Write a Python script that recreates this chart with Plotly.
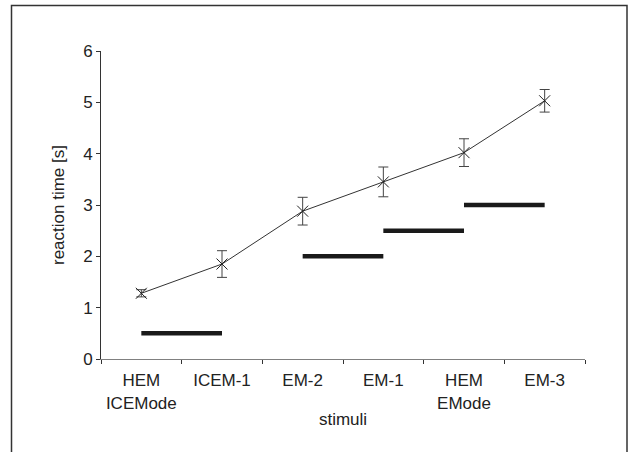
import plotly.graph_objects as go

categories = ["HEM<br>ICEMode", "ICEM-1", "EM-2", "EM-1", "HEM<br>EMode", "EM-3"]
reaction_time = [1.28, 1.85, 2.88, 3.45, 4.02, 5.03]
error = [0.07, 0.26, 0.27, 0.29, 0.27, 0.22]

# horizontal reference segments: (start category, end category, level)
seg_start = ["HEM<br>ICEMode", "EM-2", "EM-1", "HEM<br>EMode"]
seg_end = ["ICEM-1", "EM-1", "HEM<br>EMode", "EM-3"]
seg_level = [0.5, 2.0, 2.5, 3.0]

y_ticks = [0, 1, 2, 3, 4, 5, 6]

fig = go.Figure()

for s, e, v in zip(seg_start, seg_end, seg_level):
    fig.add_trace(go.Scatter(
        x=[s, e], y=[v, v], mode="lines",
        line=dict(color="#1a1a1a", width=4.5),
        showlegend=False, hoverinfo="skip", cliponaxis=False,
    ))

fig.add_trace(go.Scatter(
    x=categories, y=reaction_time, mode="lines+markers",
    line=dict(color="#333333", width=1),
    marker=dict(symbol="x-thin", size=11, line=dict(color="#222222", width=1)),
    error_y=dict(type="data", array=error, visible=True, color="#444444",
                 thickness=1, width=5),
    showlegend=False, cliponaxis=False,
))

L, R, T, B = 101, 48, 51, 93
W, H = 633, 452
pw, ph = W - L - R, H - T - B

fig.update_layout(
    width=W, height=H,
    margin=dict(l=L, r=R, t=T, b=B),
    plot_bgcolor="white", paper_bgcolor="white",
    font=dict(family="Liberation Sans, Arial, sans-serif", size=17, color="#222222"),
    xaxis=dict(
        type="category", categoryorder="array", categoryarray=categories,
        range=[-0.5, 5.5], showgrid=False, zeroline=False,
        showline=True, linecolor="#808080", linewidth=1,
        ticks="outside", tickson="boundaries", ticklen=4, tickcolor="#333333",
        ticklabelstandoff=6,
        title=dict(text="stimuli", font=dict(size=17), standoff=1),
        tickfont=dict(size=17),
    ),
    yaxis=dict(
        range=[0, 6], tickvals=y_ticks, showgrid=False, zeroline=False,
        showline=True, linecolor="#333333", linewidth=1,
        ticks="outside", ticklen=4, tickcolor="#333333",
        title=dict(text="reaction time [s]", font=dict(size=17), standoff=14),
        tickfont=dict(size=17),
    ),
    shapes=[dict(
        type="rect", xref="paper", yref="paper",
        x0=(11.5 - L) / pw, x1=(627 - L) / pw,
        y0=(ph + T - 470) / ph, y1=(ph + T - 5.5) / ph,
        line=dict(color="#333333", width=1.5), fillcolor="rgba(0,0,0,0)",
        layer="below",
    )],
)

fig.write_html("out.html", config={"displayModeBar": False},
               post_script="document.body.style.margin='0';")
